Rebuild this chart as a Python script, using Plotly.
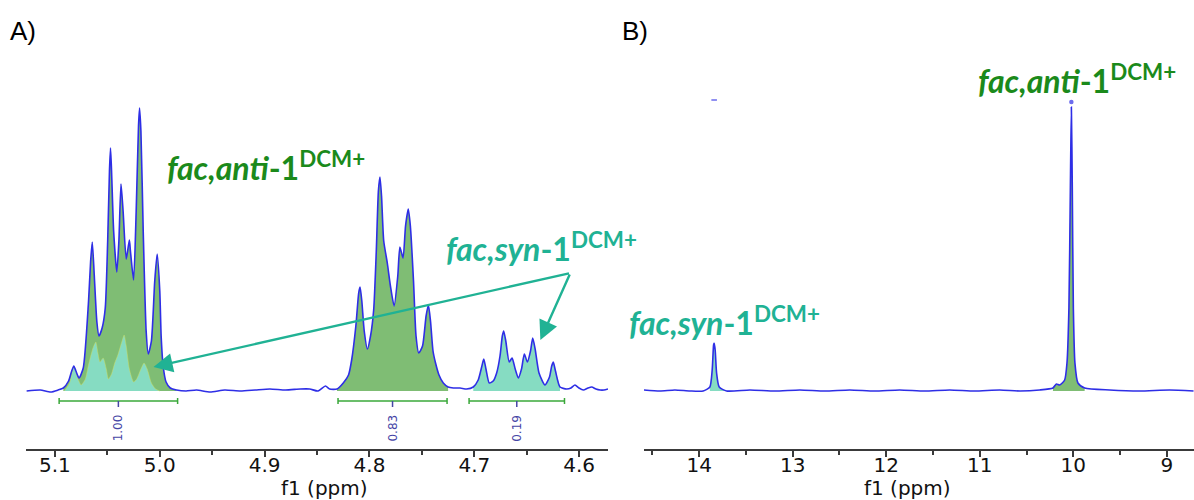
import plotly.graph_objects as go

# ---------------- Panel A: 1H NMR spectrum, 4.57-5.13 ppm ----------------
a_ppm = [5.127, 5.114, 5.104, 5.097, 5.092, 5.087, 5.084, 5.082, 5.080, 5.077,
         5.073, 5.068, 5.066, 5.0644, 5.0625, 5.060, 5.058, 5.055, 5.052, 5.0497,
         5.048, 5.047, 5.046, 5.044, 5.041, 5.039, 5.037, 5.035, 5.032, 5.029,
         5.028, 5.025, 5.0225, 5.0203, 5.0193, 5.018, 5.0158, 5.013, 5.011, 5.008,
         5.0048, 5.0025, 5.000, 4.9987, 4.9968, 4.994, 4.990, 4.984,
         4.975, 4.965, 4.952, 4.938, 4.923, 4.909, 4.895, 4.880, 4.866, 4.857,
         4.849, 4.842, 4.838, 4.831,
         4.825, 4.820, 4.817, 4.813, 4.8103, 4.809, 4.8073, 4.805, 4.802, 4.799,
         4.796, 4.7935, 4.7915, 4.790, 4.7885, 4.7864, 4.783, 4.780, 4.7765, 4.773,
         4.771, 4.768, 4.7656, 4.763, 4.761, 4.758, 4.7556, 4.753, 4.7494, 4.746,
         4.7438, 4.7418, 4.7394, 4.737, 4.7337, 4.7296, 4.725, 4.720, 4.7136,
         4.7073, 4.701, 4.6963, 4.693, 4.691, 4.6889, 4.6857, 4.682, 4.6787, 4.6755,
         4.6733, 4.672, 4.670, 4.6667, 4.664, 4.661, 4.658, 4.655, 4.6523, 4.6494,
         4.6464, 4.6443, 4.642, 4.6383, 4.6326, 4.6283, 4.6262, 4.6247, 4.6226, 4.6183,
         4.612, 4.6078, 4.604, 4.6002, 4.596, 4.5916, 4.588, 4.584, 4.580, 4.5764, 4.5725]
a_int = [0, 1, -1, 1, 3, 10, 20, 25, 20, 13,
         23, 89, 129, 149, 116, 69, 55, 63, 83, 150,
         220, 243, 220, 160, 119, 150, 207, 180, 132, 151,
         140, 111, 180, 265, 283, 260, 160, 60, 37, 50,
         110, 137, 100, 55, 25, 9, 3, 1,
         0, 1, -1, 1, 0, 1, 2, 1, 2, 2,
         0, 5, 2, 2,
         8, 16, 31, 65, 98, 104, 90, 60, 42, 55,
         81, 140, 200, 214, 195, 150, 128, 105, 85, 115,
         144, 133, 165, 182, 165, 110, 55, 38, 45, 75,
         86, 70, 40, 28, 16, 8, 4, 3, 3,
         2, 4, 11, 24, 32, 22, 8, 10, 18, 35,
         55, 60, 50, 29, 33, 22, 13, 22, 37, 29,
         40, 53, 42, 18, 6, 14, 25, 29, 20, 4,
         2, 3, 6, 3, 1, 3, 4, 2, 1, 1, 2]

# fac,syn component hidden under the 5.0-5.1 ppm multiplet
a_syn_ppm = [5.091, 5.086, 5.082, 5.078, 5.075, 5.071, 5.068, 5.064, 5.061, 5.059,
             5.057, 5.054, 5.051, 5.049, 5.046, 5.043, 5.040, 5.036, 5.034, 5.032,
             5.029, 5.025, 5.022, 5.018, 5.015, 5.012, 5.008, 5.004, 5.000]
a_syn_int = [0, 8, 25, 12, 6, 12, 26, 42, 49, 38,
             29, 33, 22, 12, 17, 28, 36, 50, 56, 45,
             22, 9, 12, 22, 28, 22, 8, 2, 0]

a_anti_ranges = [(5.095, 4.984), (4.832, 4.722)]
a_syn_ranges = [(4.706, 4.616)]

int_from = [5.096, 4.830, 4.705]
int_to = [4.983, 4.726, 4.614]
int_labels = ["1.00", "0.83", "0.19"]

# ---------------- Panel B: 1H NMR spectrum, 8.7-14.6 ppm ----------------
b_ppm = [14.591, 14.420, 14.260, 14.099, 13.957, 13.886, 13.861, 13.846, 13.840, 13.829,
         13.814, 13.786, 13.707, 13.458, 13.190, 12.924, 12.657, 12.390, 12.124, 11.857,
         11.590, 11.322, 11.055, 10.787, 10.570, 10.360, 10.218, 10.182, 10.146, 10.093,
         10.068, 10.047, 10.032, 10.021, 10.011, 10.000, 9.983, 9.951, 9.879, 9.612,
         9.292, 8.971, 8.715]
b_int = [1, 0, 1, 0, 0, 4, 21, 46, 48, 41,
         18, 4, 0, 1, 0, 1, 0, 1, 0, 1,
         0, 1, 0, 1, 0, 1, 3, 7, 6, 11,
         28, 84, 201, 284, 201, 84, 28, 8, 3, 1,
         0, 1, 0]
b_anti_ranges = [(10.25, 9.80)]
b_syn_ranges = [(13.93, 13.70)]

BLUE = "#2e2ee6"
GREEN_FILL = "#7fbd74"
TEAL_FILL = "#86dcc2"
GREEN_TXT = "#1b8a1b"
TEAL_TXT = "#20b294"
INT_GREEN = "#3aa83a"
INT_BLUE = "#4646a6"


def subset(xs, ys, lo_hi):
    hi, lo = lo_hi
    px_, py_ = [], []
    for x, y in zip(xs, ys):
        if lo <= x <= hi:
            px_.append(x)
            py_.append(max(y, 0))
    return px_, py_


fig = go.Figure()

# green fills (fac,anti)
for xa, ya, xs, ys, ranges in [("x", "y", a_ppm, a_int, a_anti_ranges),
                               ("x2", "y2", b_ppm, b_int, b_anti_ranges)]:
    for r in ranges:
        sx, sy = subset(xs, ys, r)
        fig.add_trace(go.Scatter(x=sx, y=sy, xaxis=xa, yaxis=ya, mode="lines",
                                 line=dict(width=0, shape="spline", smoothing=0.6),
                                 fill="tozeroy", fillcolor=GREEN_FILL, hoverinfo="skip",
                                 showlegend=False))

# teal fills (fac,syn)
fig.add_trace(go.Scatter(x=a_syn_ppm, y=a_syn_int, xaxis="x", yaxis="y", mode="lines",
                         line=dict(width=1, color="rgba(215,225,90,0.45)", shape="spline", smoothing=0.6),
                         fill="tozeroy", fillcolor=TEAL_FILL, hoverinfo="skip", showlegend=False))
for xa, ya, xs, ys, ranges in [("x", "y", a_ppm, a_int, a_syn_ranges),
                               ("x2", "y2", b_ppm, b_int, b_syn_ranges)]:
    for r in ranges:
        sx, sy = subset(xs, ys, r)
        fig.add_trace(go.Scatter(x=sx, y=sy, xaxis=xa, yaxis=ya, mode="lines",
                                 line=dict(width=0, shape="spline", smoothing=0.6),
                                 fill="tozeroy", fillcolor=TEAL_FILL, hoverinfo="skip",
                                 showlegend=False))

# spectra lines
fig.add_trace(go.Scatter(x=a_ppm, y=a_int, xaxis="x", yaxis="y", mode="lines",
                         line=dict(color=BLUE, width=1.6, shape="spline", smoothing=0.6),
                         showlegend=False))
fig.add_trace(go.Scatter(x=b_ppm, y=b_int, xaxis="x2", yaxis="y2", mode="lines",
                         line=dict(color=BLUE, width=1.6, shape="spline", smoothing=0.6),
                         showlegend=False))
# small peak-pick marks above panel B peaks
fig.add_trace(go.Scatter(x=[13.84, 10.021], y=[291, 289], xaxis="x2", yaxis="y2", mode="markers",
                         marker=dict(symbol=["line-ew", "circle"], size=[4, 3], color=BLUE,
                                     line=dict(color=BLUE, width=1.5)),
                         showlegend=False))

shapes = []
annotations = []
# integration bars
for f, t, lab in zip(int_from, int_to, int_labels):
    c = (f + t) / 2
    shapes.append(dict(type="line", xref="x", yref="y", x0=f, x1=t, y0=-10, y1=-10,
                       line=dict(color=INT_GREEN, width=1.5)))
    for e in (f, t):
        shapes.append(dict(type="line", xref="x", yref="y", x0=e, x1=e, y0=-7, y1=-13,
                           line=dict(color=INT_GREEN, width=1.5)))
    shapes.append(dict(type="line", xref="x", yref="y", x0=c, x1=c, y0=-10, y1=-16,
                       line=dict(color=INT_BLUE, width=1.5)))
    annotations.append(dict(xref="x", yref="y", x=c, y=-37, text=lab, showarrow=False,
                            textangle=-90, font=dict(family="DejaVu Sans", size=12, color=INT_BLUE)))

# arrows for fac,syn in panel A
annotations.append(dict(xref="x", yref="y", x=5.006, y=24, ax=417, ay=-94, axref="pixel",
                        ayref="pixel", text="", showarrow=True, arrowhead=2, arrowsize=1.6,
                        arrowwidth=2.4, arrowcolor=TEAL_TXT))
annotations.append(dict(xref="x", yref="y", x=4.637, y=51, ax=30, ay=-67, text="",
                        showarrow=True, arrowhead=2, arrowsize=1.6, arrowwidth=2.4,
                        arrowcolor=TEAL_TXT))

W, H = 1194, 500


def px(x):
    return x / W


def py(y):
    return 1 - y / H


lab_font = "Lato"
for txt, x, y, col in [("<b><i>fac,anti</i>-1<sup>DCM+</sup></b>", 165, 143, GREEN_TXT),
                       ("<b><i>fac,syn</i>-1<sup>DCM+</sup></b>", 444, 224, TEAL_TXT),
                       ("<b><i>fac,syn</i>-1<sup>DCM+</sup></b>", 627, 298, TEAL_TXT),
                       ("<b><i>fac,anti</i>-1<sup>DCM+</sup></b>", 976, 56, GREEN_TXT)]:
    annotations.append(dict(xref="paper", yref="paper", x=px(x), y=py(y), xanchor="left",
                            yanchor="top", text=txt, showarrow=False,
                            font=dict(family=lab_font, size=32, color=col)))

for txt, x in [("A)", 8), ("B)", 620)]:
    annotations.append(dict(xref="paper", yref="paper", x=px(x), y=py(31), xanchor="left",
                            yanchor="middle", text=txt, showarrow=False,
                            font=dict(family="Liberation Sans", size=26, color="black")))

for x in (325, 907):
    annotations.append(dict(xref="paper", yref="paper", x=px(x), y=py(488), xanchor="center",
                            yanchor="middle", text="f1 (ppm)", showarrow=False,
                            font=dict(family="DejaVu Sans", size=20, color="#111")))

axis_common = dict(showline=True, linecolor="#3a3a3a", linewidth=2, ticks="outside",
                   ticklen=6, tickwidth=1.5, tickcolor="#3a3a3a", showgrid=False,
                   zeroline=False, automargin=False, ticklabelstandoff=-9,
                   tickfont=dict(family="DejaVu Sans", size=20, color="#111"))

fig.update_layout(
    width=W, height=H, margin=dict(l=0, r=0, t=0, b=0, autoexpand=False),
    paper_bgcolor="white", plot_bgcolor="white", showlegend=False,
    xaxis=dict(domain=[px(26), px(608)], range=[5.1276, 4.5725], anchor="y",
               dtick=0.1, tick0=5.0, tickformat=".1f",
               minor=dict(dtick=0.05, tick0=5.0, ticks="outside", ticklen=4, tickcolor="#3a3a3a"),
               **axis_common),
    yaxis=dict(domain=[py(449), 1], range=[-58, 391], visible=False, anchor="x"),
    xaxis2=dict(domain=[px(644), 1], range=[14.59, 8.71], anchor="y2",
                dtick=1, tick0=10,
                minor=dict(dtick=0.5, tick0=10, ticks="outside", ticklen=4, tickcolor="#3a3a3a"),
                **axis_common),
    yaxis2=dict(domain=[py(449), 1], range=[-58, 391], visible=False, anchor="x2"),
    shapes=shapes, annotations=annotations,
)

fig.write_html("out.html")
